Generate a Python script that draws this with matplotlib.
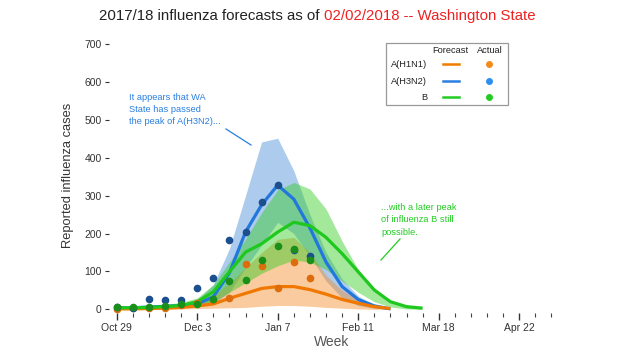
import matplotlib
matplotlib.use("Agg")
import matplotlib.pyplot as plt
from matplotlib.lines import Line2D
from matplotlib.patches import Rectangle

plt.rcParams['font.family'] = ['Liberation Sans', 'DejaVu Sans']

# ---------------- data ----------------
tick_labels = ["Oct 29", "Dec 3", "Jan 7", "Feb 11", "Mar 18", "Apr 22"]
tick_weeks = [0, 5, 10, 15, 20, 25]
n_weeks = 28

# actual observations (weeks 0..12)
h1n1_actual = [2, 3, 3, 3, 11, 17, 25, 29, 120, 115, 55, 124, 83]
h3n2_actual = [7, 4, 27, 25, 25, 55, 82, 182, 204, 284, 328, 157, 140]
b_actual = [7, 5, 7, 10, 15, 15, 28, 74, 77, 129, 166, 160, 129]

# forecasts
h1n1_fc = [1, 1, 2, 3, 5, 9, 14, 29, 42, 55, 60, 60, 52, 40, 26, 16, 7, 2]
h1n1_lo = [0, 0, 0, 0, 1, 2, 3, 4, 5, 8, 10, 10, 8, 5, 3, 1, 0, 0]
h1n1_hi = [3, 3, 4, 6, 10, 18, 35, 70, 110, 150, 185, 190, 150, 90, 50, 25, 8, 2]

h3n2_fc = [4, 4, 6, 8, 10, 14, 33, 96, 204, 276, 328, 291, 215, 125, 60, 26, 9, 1]
h3n2_lo = [2, 2, 3, 4, 5, 7, 15, 45, 110, 170, 230, 200, 140, 75, 30, 10, 3, 0]
h3n2_hi = [8, 8, 10, 12, 15, 25, 65, 160, 300, 442, 452, 366, 250, 150, 80, 35, 12, 3]

b_fc = [4, 4, 5, 7, 10, 20, 46, 99, 151, 173, 204, 230, 221, 190, 147, 99, 51, 20, 7, 3]
b_lo = [1, 1, 2, 3, 5, 8, 20, 45, 70, 95, 115, 130, 125, 105, 75, 45, 20, 6, 1, 0]
b_hi = [8, 8, 10, 13, 18, 30, 65, 125, 185, 255, 315, 335, 318, 265, 180, 105, 55, 22, 7, 1]

# ---------------- figure ----------------
W, H = 620, 350
fig = plt.figure(figsize=(6.2, 3.5), dpi=100)

def fx(px):
    return px / W

def fy(py):
    return 1 - py / H

x0px, xpw = 116.7, 16.1
y0px, ypu = 309.3, 265.0 / 700
xlim = (-0.5, 27.5)
ylim = (-10, 710)
left = x0px + xlim[0] * xpw
right = x0px + xlim[1] * xpw
bottom = y0px - ylim[0] * ypu
top = y0px - ylim[1] * ypu
ax = fig.add_axes([fx(left), fy(bottom), fx(right - left), (bottom - top) / H])
ax.set_xlim(*xlim)
ax.set_ylim(*ylim)
for s in ax.spines.values():
    s.set_visible(False)

def wk(a):
    return list(range(len(a)))

c_blue_band = "#3a85d6"
c_or_band = "#f28c28"
c_gr_band = "#33cc22"
c_blue_line = "#2277dd"
c_or_line = "#f07800"
c_gr_line = "#1ec81e"
c_blue_dot = "#1b4f8e"
c_or_dot = "#de6c0c"
c_gr_dot = "#1a901a"

ax.fill_between(wk(h3n2_lo), h3n2_lo, h3n2_hi, color=c_blue_band, alpha=0.42, lw=0)
ax.plot(wk(h3n2_fc), h3n2_fc, color=c_blue_line, lw=2.3, solid_capstyle='butt')
ax.fill_between(wk(h1n1_lo), h1n1_lo, h1n1_hi, color=c_or_band, alpha=0.45, lw=0)
ax.fill_between(wk(b_lo), b_lo, b_hi, color=c_gr_band, alpha=0.45, lw=0)
ax.plot(wk(h1n1_fc), h1n1_fc, color=c_or_line, lw=2.3, solid_capstyle='butt')
ax.plot(wk(b_fc), b_fc, color=c_gr_line, lw=2.3, solid_capstyle='butt')

ax.plot(wk(h1n1_actual), h1n1_actual, 'o', color=c_or_dot, ms=5.5, mew=0)
ax.plot(wk(h3n2_actual), h3n2_actual, 'o', color=c_blue_dot, ms=5.5, mew=0)
ax.plot(wk(b_actual), b_actual, 'o', color=c_gr_dot, ms=5.5, mew=0)

ax.set_yticks(range(0, 701, 100))
ax.set_xticks(tick_weeks)
ax.set_xticklabels(tick_labels)
ax.set_xticks(range(n_weeks), minor=True)
ax.tick_params(axis='y', direction='out', length=3, width=0.8, pad=2,
               labelsize=7.5, colors='#333333')
ax.tick_params(axis='x', which='major', direction='out', length=5, width=1.0,
               pad=2, labelsize=7.5, colors='#333333')
ax.tick_params(axis='x', which='minor', direction='out', length=3, width=0.8,
               colors='#444444')

fig.text(fx(68), fy(175), "Reported influenza cases", rotation=90,
         ha='center', va='center', fontsize=9.3, color='#333333')
fig.text(fx(332), fy(342), "Week", ha='center', va='center',
         fontsize=10, color='#555555')

# title in two colours
t1 = fig.text(0, fy(16), "2017/18 influenza forecasts as of ", ha='left',
              va='center', fontsize=10.8, color='#222222')
t2 = fig.text(0, fy(16), "02/02/2018 -- Washington State", ha='left',
              va='center', fontsize=10.8, color='#ee2222')
r = fig.canvas.get_renderer()
w1 = t1.get_window_extent(r).width
w2 = t2.get_window_extent(r).width
start = 317 - (w1 + w2) / 2
t1.set_x(fx(start))
t2.set_x(fx(start + w1))

# annotations
fig.text(fx(129), fy(109.5), "It appears that WA\nState has passed\nthe peak of A(H3N2)...",
         ha='left', va='center', fontsize=6.7, color='#2a7fe0', linespacing=1.45)
fig.text(fx(381), fy(220), "...with a later peak\nof influenza B still\npossible.",
         ha='left', va='center', fontsize=6.7, color='#22cc22', linespacing=1.45)
fig.add_artist(Line2D([fx(226), fx(251)], [fy(129), fy(145)], color='#2a7fe0', lw=0.9))
fig.add_artist(Line2D([fx(400), fx(381)], [fy(239), fy(260)], color='#22cc22', lw=0.9))

# legend box
fig.add_artist(Rectangle((fx(386), fy(105)), fx(122), (105 - 43) / H,
                         fill=False, edgecolor='#999999', lw=0.9))
fig.text(fx(450.5), fy(50.5), "Forecast", ha='center', va='center', fontsize=6.7, color='#222222')
fig.text(fx(490), fy(50.5), "Actual", ha='center', va='center', fontsize=6.7, color='#222222')
rows = [("A(H1N1)", "#f07d00", "#f28a1e", 64.3),
        ("A(H3N2)", "#2a7fe0", "#2b8ff0", 81),
        ("B", "#22cc22", "#22cc22", 97)]
for name, lc, dc, yy in rows:
    fig.text(fx(427), fy(yy), name, ha='right', va='center', fontsize=6.7, color='#222222')
    fig.add_artist(Line2D([fx(443), fx(459)], [fy(yy), fy(yy)], color=lc, lw=1.8))
    fig.add_artist(Line2D([fx(489.3)], [fy(yy)], marker='o', ms=5, mew=0, color=dc))

fig.savefig("out.png", dpi=100)
